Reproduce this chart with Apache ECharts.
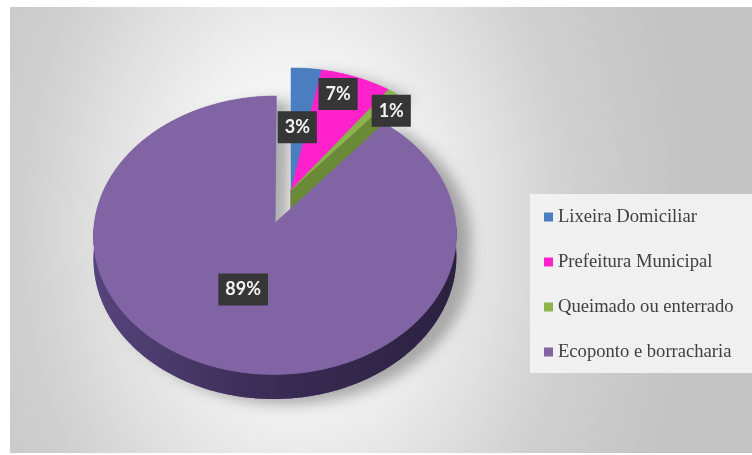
<!DOCTYPE html>
<html><head><meta charset="utf-8">
<script src="https://cdn.jsdelivr.net/npm/echarts@6/dist/echarts.min.js"></script>
<style>html,body{margin:0;padding:0;background:#fff}#c{width:752px;height:455px}</style>
</head><body><div id="c"></div>
<script>
// ---- data ----
const categories = ['Lixeira Domiciliar', 'Prefeitura Municipal', 'Queimado ou enterrado', 'Ecoponto e borracharia'];
const values = [3, 7, 1, 89];

// ---- styles ----
const topColors = ['#4a7ec1', '#ff21cc', '#8cb44c', '#8064a3'];
const sideColors = ['#2e578c', '#b0128a', '#6a8a37', '#3a2c55'];

// ---- layout of the 3D pie (centre, radii, perspective, depth, explosion) ----
const layout = {
  cx: 291, cy: 190, rx: 177, ry: 132.5, persp: 0.085, depth: 22,
  explode: [0, 0, 0, 0.26],
  labelR: [0.52, 0.85, 0.85, 0.49],
  labelNudge: [[-2, 3], [-9, 1], [13, 5], [0, 0]]
};

const total = values.reduce((a, b) => a + b, 0);
const rad = d => d * Math.PI / 180;

function proj(u, v, h) {
  const s = 1 / (1 - layout.persp * v);
  return [layout.cx + layout.rx * u * s, layout.cy + (layout.ry * v + layout.depth * h) * s];
}

function renderItem(params, api) {
  const i = params.seriesIndex;
  let before = 0;
  for (let k = 0; k < i; k++) before += values[k];
  const a0 = before / total * 360;
  const a1 = (before + values[i]) / total * 360;
  const mid = (a0 + a1) / 2;
  const e = layout.explode[i];
  const ou = e * Math.sin(rad(mid)), ov = -e * Math.cos(rad(mid));
  const rim = (t, h, r) => { r = r == null ? 1 : r; return proj(ou + r * Math.sin(rad(t)), ov - r * Math.cos(rad(t)), h); };
  const arc = (t0, t1, h) => {
    const pts = [];
    const n = Math.max(2, Math.ceil((t1 - t0) / 0.5));
    for (let k = 0; k <= n; k++) pts.push(rim(t0 + (t1 - t0) * k / n, h));
    return pts;
  };
  const children = [];
  const topPts = [proj(ou, ov, 0)].concat(arc(a0, a1, 0));
  const w0 = Math.max(a0, 90), w1 = Math.min(a1, 270);
  let wallPts = null;
  if (w1 > w0) wallPts = arc(w0, w1, 0).concat(arc(w0, w1, 1).reverse());

  // shadow casters (hidden beneath the slice itself)
  const shadowStyle = { fill: topColors[i], shadowBlur: 14, shadowColor: 'rgba(0,0,0,0.30)', shadowOffsetX: 14, shadowOffsetY: 5 };
  children.push({ type: 'polygon', shape: { points: topPts }, style: shadowStyle, z2: 0 });
  if (wallPts) children.push({ type: 'polygon', shape: { points: wallPts }, style: shadowStyle, z2: 0 });

  const isGrad = i === 3;
  const wallFill = isGrad
    ? new echarts.graphic.LinearGradient(0, 0, 1, 0, [
        { offset: 0, color: '#56447c' }, { offset: 0.45, color: '#3b2d57' }, { offset: 1, color: '#2b2140' }])
    : sideColors[i];
  if (wallPts) children.push({ type: 'polygon', shape: { points: wallPts }, style: { fill: wallFill, stroke: isGrad ? null : sideColors[i], lineWidth: 0.5 }, z2: 2 });
  const c0 = proj(ou, ov, 0), c1 = proj(ou, ov, 1);
  if (Math.sin(rad(a1)) > 1e-6) {
    children.push({ type: 'polygon', shape: { points: [c0, rim(a1, 0), rim(a1, 1), c1] }, style: { fill: sideColors[i], stroke: sideColors[i], lineWidth: 0.5 }, z2: 3 });
  }
  if (-Math.sin(rad(a0)) > 1e-6) {
    children.push({ type: 'polygon', shape: { points: [c0, rim(a0, 0), rim(a0, 1), c1] }, style: { fill: sideColors[i], stroke: sideColors[i], lineWidth: 0.5 }, z2: 3 });
  }
  children.push({ type: 'polygon', shape: { points: topPts }, style: { fill: topColors[i], stroke: topColors[i], lineWidth: 0.5 }, z2: 10 });
  const lp = rim(mid, 0, layout.labelR[i]);
  const pct = Math.round(values[i] / total * 100) + '%';
  children.push({
    type: 'text', x: lp[0] + layout.labelNudge[i][0], y: lp[1] + layout.labelNudge[i][1], z2: 20,
    style: {
      text: pct, fill: '#f4f4f4', fontFamily: 'Lato', fontWeight: 'bold', fontSize: 18,
      align: 'center', verticalAlign: 'middle', lineHeight: 18,
      backgroundColor: '#363636', padding: [7, 7, 7, 7],
      boxShadowBlur: 5, boxShadowColor: 'rgba(0,0,0,0.45)', boxShadowOffsetX: 2, boxShadowOffsetY: 2
    }
  });
  return { type: 'group', children };
}

const chart = echarts.init(document.getElementById('c'), null, { renderer: 'canvas' });
const panelW = 742, panelH = 446, sx = 0.7;
chart.setOption({
  animation: false,
  backgroundColor: '#ffffff',
  graphic: [{
    type: 'rect', x: 10, y: 7, scaleX: sx, silent: true, z: -10,
    shape: { x: 0, y: 0, width: panelW / sx, height: panelH },
    style: {
      fill: { type: 'radial', x: 0.39, y: 0.5, r: 1.25, colorStops: [
        { offset: 0, color: '#ffffff' }, { offset: 0.3, color: '#f3f3f3' },
        { offset: 0.7, color: '#d0d0d0' }, { offset: 1, color: '#c4c4c4' }] }
    }
  }],
  legend: {
    orient: 'vertical', left: 530, top: 194, icon: 'rect', itemWidth: 9, itemHeight: 9, itemGap: 25,
    padding: [13, 20, 11, 14], backgroundColor: 'rgba(243,243,243,0.92)', selectedMode: false,
    textStyle: { fontFamily: 'Liberation Serif', fontSize: 18.6, color: '#404040', lineHeight: 20 },
    data: categories
  },
  series: categories.map((name, i) => ({
    type: 'custom', name, coordinateSystem: 'none', data: [values[i]],
    itemStyle: { color: topColors[i] }, renderItem, silent: true
  }))
});
</script></body></html>
